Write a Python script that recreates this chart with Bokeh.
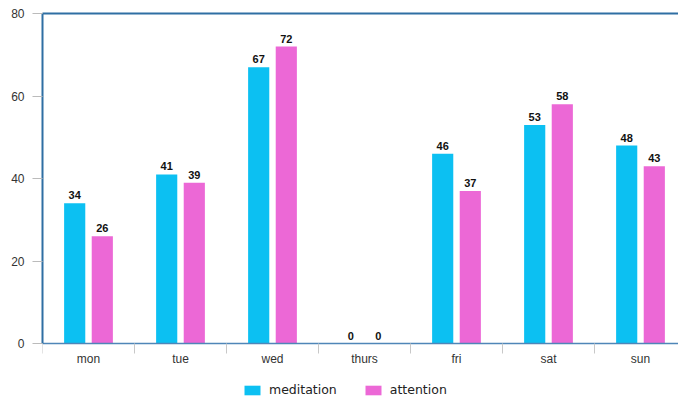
from bokeh.plotting import figure
from bokeh.models import (Range1d, FixedTicker, LinearAxis, Legend, LegendItem,
                          ColumnDataSource)
from bokeh.core.properties import value
from bokeh.embed import file_html
from bokeh.resources import INLINE

days = ["mon", "tue", "wed", "thurs", "fri", "sat", "sun"]
meditation = [34, 41, 67, 0, 46, 53, 48]
attention = [26, 39, 72, 0, 37, 58, 43]
y_ticks = [0, 20, 40, 60, 80]

MED = "#0cc0f2"
ATT = "#ec68d6"
FRAME = "#2f6fa3"

centers = [i + 0.5 for i in range(len(days))]
med_x = [c - 0.15 for c in centers]
att_x = [c + 0.15 for c in centers]

PX_PER_UNIT = 330 / 80
p = figure(frame_width=636, frame_height=384, min_border_left=42, min_border_top=13,
           min_border_bottom=0, min_border_right=0,
           x_range=Range1d(0, 636 / 92), y_range=Range1d(-54 / PX_PER_UNIT, 80),
           output_backend="svg", toolbar_location=None, x_axis_type=None,
           y_axis_type=None)
p.outline_line_color = None
p.background_fill_color = "white"
p.border_fill_color = "white"

src_m = ColumnDataSource(dict(x=med_x, top=meditation, lab=[str(v) for v in meditation]))
src_a = ColumnDataSource(dict(x=att_x, top=attention, lab=[str(v) for v in attention]))

r1 = p.vbar(x="x", top="top", width=0.23, bottom=0, source=src_m, fill_color=MED, line_color=None)
r2 = p.vbar(x="x", top="top", width=0.23, bottom=0, source=src_a, fill_color=ATT, line_color=None)

for s in (src_m, src_a):
    p.text(x="x", y="top", text="lab", source=s, text_align="center", text_baseline="bottom",
           y_offset=-4, text_font=value("Liberation Sans"), text_font_style="bold",
           text_font_size="11px", text_color="#111111")

# y axis
ya = LinearAxis(ticker=FixedTicker(ticks=y_ticks), bounds=(0, 80))
ya.axis_line_color = FRAME
ya.axis_line_width = 2
ya.major_tick_line_color = "#bbbbbb"
ya.major_tick_out = 10
ya.major_tick_in = 0
ya.minor_tick_line_color = None
ya.major_label_standoff = 8
ya.major_label_text_font = "Liberation Sans"
ya.major_label_text_font_size = "12px"
ya.major_label_text_color = "#333333"
p.add_layout(ya, "left")

# x axis, fixed at y = 0
xa = LinearAxis(ticker=FixedTicker(ticks=centers, minor_ticks=list(range(len(days) + 1))),
                fixed_location=0)
xa.major_label_overrides = {c: d for c, d in zip(centers, days)}
xa.axis_line_color = "#4f86b8"
xa.axis_line_width = 1.5
xa.major_tick_line_color = None
xa.major_tick_out = 0
xa.major_tick_in = 0
xa.minor_tick_line_color = "#c8c8c8"
xa.minor_tick_out = 10
xa.minor_tick_in = 0
xa.major_label_standoff = -2
xa.major_label_text_font = "Liberation Sans"
xa.major_label_text_font_size = "12px"
xa.major_label_text_color = "#333333"
p.add_layout(xa, "below")

# top border line
ta = LinearAxis(ticker=FixedTicker(ticks=[]))
ta.axis_line_color = FRAME
ta.axis_line_width = 2
ta.major_tick_line_color = None
ta.minor_tick_line_color = None
ta.major_label_text_font_size = "0px"
p.add_layout(ta, "above")

p.ygrid.ticker = FixedTicker(ticks=[20, 40, 60])
p.ygrid.grid_line_color = "#d4d4d4"
p.ygrid.grid_line_width = 1
p.xgrid.grid_line_color = None

legend = Legend(items=[LegendItem(label="meditation", renderers=[r1]),
                       LegendItem(label="attention", renderers=[r2])],
                orientation="horizontal", location=(200, 0),
                glyph_width=20, glyph_height=12, label_height=12, label_standoff=7,
                spacing=26, padding=0, margin=0,
                label_text_font="DejaVu Sans", label_text_font_size="12.5px",
                label_text_color="#222222", border_line_color=None,
                background_fill_alpha=0)
p.add_layout(legend, "center")

open("out.html", "w").write(file_html(p, INLINE))
